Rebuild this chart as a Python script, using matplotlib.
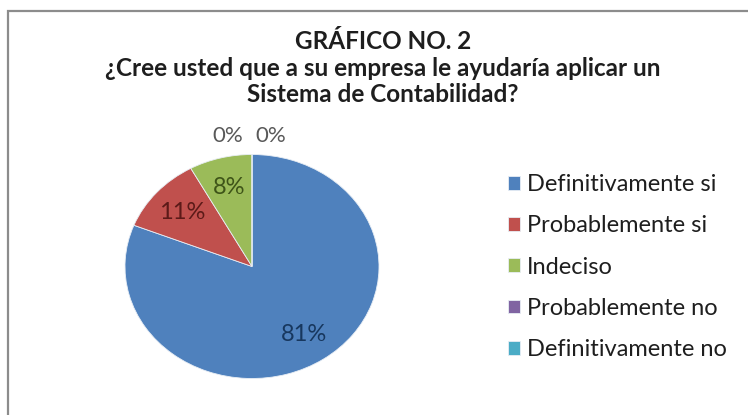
import numpy as np
import matplotlib
matplotlib.use("Agg")
import matplotlib.pyplot as plt
from matplotlib.patches import Rectangle

plt.rcParams["font.family"] = ["Lato", "DejaVu Sans"]

CATEGORIES = ["Definitivamente si", "Probablemente si", "Indeciso",
              "Probablemente no", "Definitivamente no"]
PERCENTS = [81, 11, 8, 0, 0]
COLORS = ["#4F81BD", "#C0504D", "#9BBB59", "#8064A2", "#4BACC6"]
LABEL_COLORS = ["#17375E", "#5C1A18", "#3E5418", "#595959", "#595959"]
TITLE = "GRÁFICO NO. 2\n¿Cree usted que a su empresa le ayudaría aplicar un\nSistema de Contabilidad?"

W, H = 748, 415
fig = plt.figure(figsize=(W / 100, H / 100), dpi=100)
fig.patch.set_facecolor("white")

# chart frame, runs off the right and bottom edges like the scan
fig.patches.append(Rectangle((8 / W, -0.02), 1.05, (H - 11) / H + 0.02,
                             transform=fig.transFigure, fill=False,
                             edgecolor="#8c8c8c", linewidth=1.6))

fig.text(383 / W, 1 - 68 / H, TITLE, ha="center", va="center", fontsize=17.5,
         fontweight="bold", color="#1e1e1e", linespacing=1.17,
         multialignment="center")

# pie is slightly stretched horizontally in the original
cx, cy, rx, ry = 252, 266.5, 127, 112
ax = fig.add_axes([(cx - rx) / W, (H - cy - ry) / H, 2 * rx / W, 2 * ry / H])
wedges, _ = ax.pie(PERCENTS, colors=COLORS, startangle=90, counterclock=False,
                   wedgeprops=dict(linewidth=0.6, edgecolor="#e8eef5"))
ax.set_aspect("auto")
ax.set_xlim(-1, 1)
ax.set_ylim(-1, 1)
ax.axis("off")

zero_i = 0
for i, (w, p) in enumerate(zip(wedges, PERCENTS)):
    if p > 0:
        ang = np.deg2rad((w.theta1 + w.theta2) / 2)
        ax.text(0.73 * np.cos(ang), 0.73 * np.sin(ang), f"{p}%",
                ha="center", va="center", fontsize=17, color=LABEL_COLORS[i])
    else:
        # zero slices sit at the top; Excel spreads their labels sideways
        ang = np.deg2rad(w.theta1)
        x = np.cos(ang) - 0.19 + 0.34 * zero_i
        ax.text(x, 1.165 * np.sin(ang), f"{p}%", ha="center", va="center",
                fontsize=16, color=LABEL_COLORS[i], clip_on=False)
        zero_i += 1

fig.legend(wedges, CATEGORIES, loc="upper left",
           bbox_to_anchor=(508 / W, 1 - 174 / H), frameon=False,
           borderpad=0, borderaxespad=0,
           fontsize=17, handlelength=0.52, handleheight=0.52,
           handletextpad=0.3, labelspacing=0.86, labelcolor="#1e1e1e")

fig.savefig("out.png", dpi=100, facecolor="white")
